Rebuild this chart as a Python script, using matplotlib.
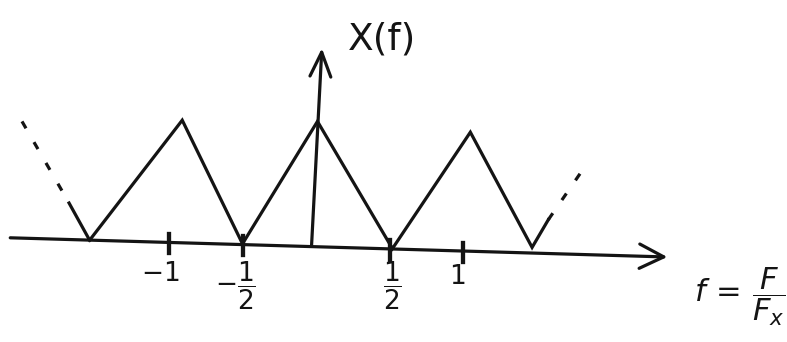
import matplotlib.pyplot as plt

# periodic triangle spectrum, corner points (f, X)
spec_f = [-1.54, -0.91, -0.50, 0.01, 0.52, 1.05, 1.47, 1.58]
spec_x = [0.04, 1.04, 0.01, 1.03, -0.03, 0.94, -0.02, 0.21]
# solid start on the left, then dashed continuation on both sides
left_solid_f = [-1.68, -1.54]
left_solid_x = [0.35, 0.04]
left_dash_f = [-2.00, -1.68]
left_dash_x = [1.03, 0.35]
right_dash_f = [1.58, 1.85]
right_dash_x = [0.21, 0.69]

# horizontal axis, drawn a little slanted
axis_f = [-2.08, 2.39]
axis_x = [0.06, -0.10]
# vertical axis
yaxis_f = [-0.03, 0.04]
yaxis_x = [0.0, 1.64]

tick_f = [-1.0, -0.5, 0.5, 1.0]
tick_labels = [r"$-1$", r"$-\dfrac{1}{2}$", r"$\dfrac{1}{2}$", r"$1$"]
label_pos = [(-1.06, -0.24), (-0.55, -0.34), (0.52, -0.34), (0.96, -0.27)]

ink = "#141414"
lw = 2.3

fig = plt.figure(figsize=(7.87, 3.42), dpi=100)
ax = fig.add_axes([0, 0, 1, 1])
ax.set_xlim(-316 / 147, (787 - 316) / 147)
ax.set_ylim((245 - 342) / 120, 245 / 120)
ax.axis("off")


def axis_y(f):
    t = (f - axis_f[0]) / (axis_f[1] - axis_f[0])
    return axis_x[0] + t * (axis_x[1] - axis_x[0])


ax.annotate("", xy=(axis_f[1], axis_x[1]), xytext=(axis_f[0], axis_x[0]),
            arrowprops=dict(arrowstyle="->,head_length=0.7,head_width=0.35",
                            lw=lw, color=ink, mutation_scale=25, shrinkA=0, shrinkB=0))
ax.annotate("", xy=(yaxis_f[1], yaxis_x[1]), xytext=(yaxis_f[0], yaxis_x[0]),
            arrowprops=dict(arrowstyle="->,head_length=0.7,head_width=0.3",
                            lw=lw, color=ink, mutation_scale=25, shrinkA=0, shrinkB=0))

ax.plot(spec_f, spec_x, color=ink, lw=lw, solid_joinstyle="miter")
ax.plot(left_solid_f, left_solid_x, color=ink, lw=lw)
ax.plot(left_dash_f, left_dash_x, color=ink, lw=lw, linestyle=(0, (2.5, 5)))
ax.plot(right_dash_f, right_dash_x, color=ink, lw=lw, linestyle=(0, (2.5, 5)))

for f in tick_f:
    y0 = axis_y(f)
    ax.plot([f, f], [y0 - 0.09, y0 + 0.07], color=ink, lw=lw + 0.8)

for lab, (x, y) in zip(tick_labels, label_pos):
    ax.text(x, y, lab, fontsize=19, ha="center", va="center", color=ink)

ax.text(0.45, 1.71, "X(f)", fontsize=27, ha="center", va="center", color=ink)
ax.text(2.88, -0.43, r"$f\,=\,\dfrac{F}{F_x}$", fontsize=22, ha="center", va="center",
        color=ink)

fig.savefig("out.png", dpi=100)
